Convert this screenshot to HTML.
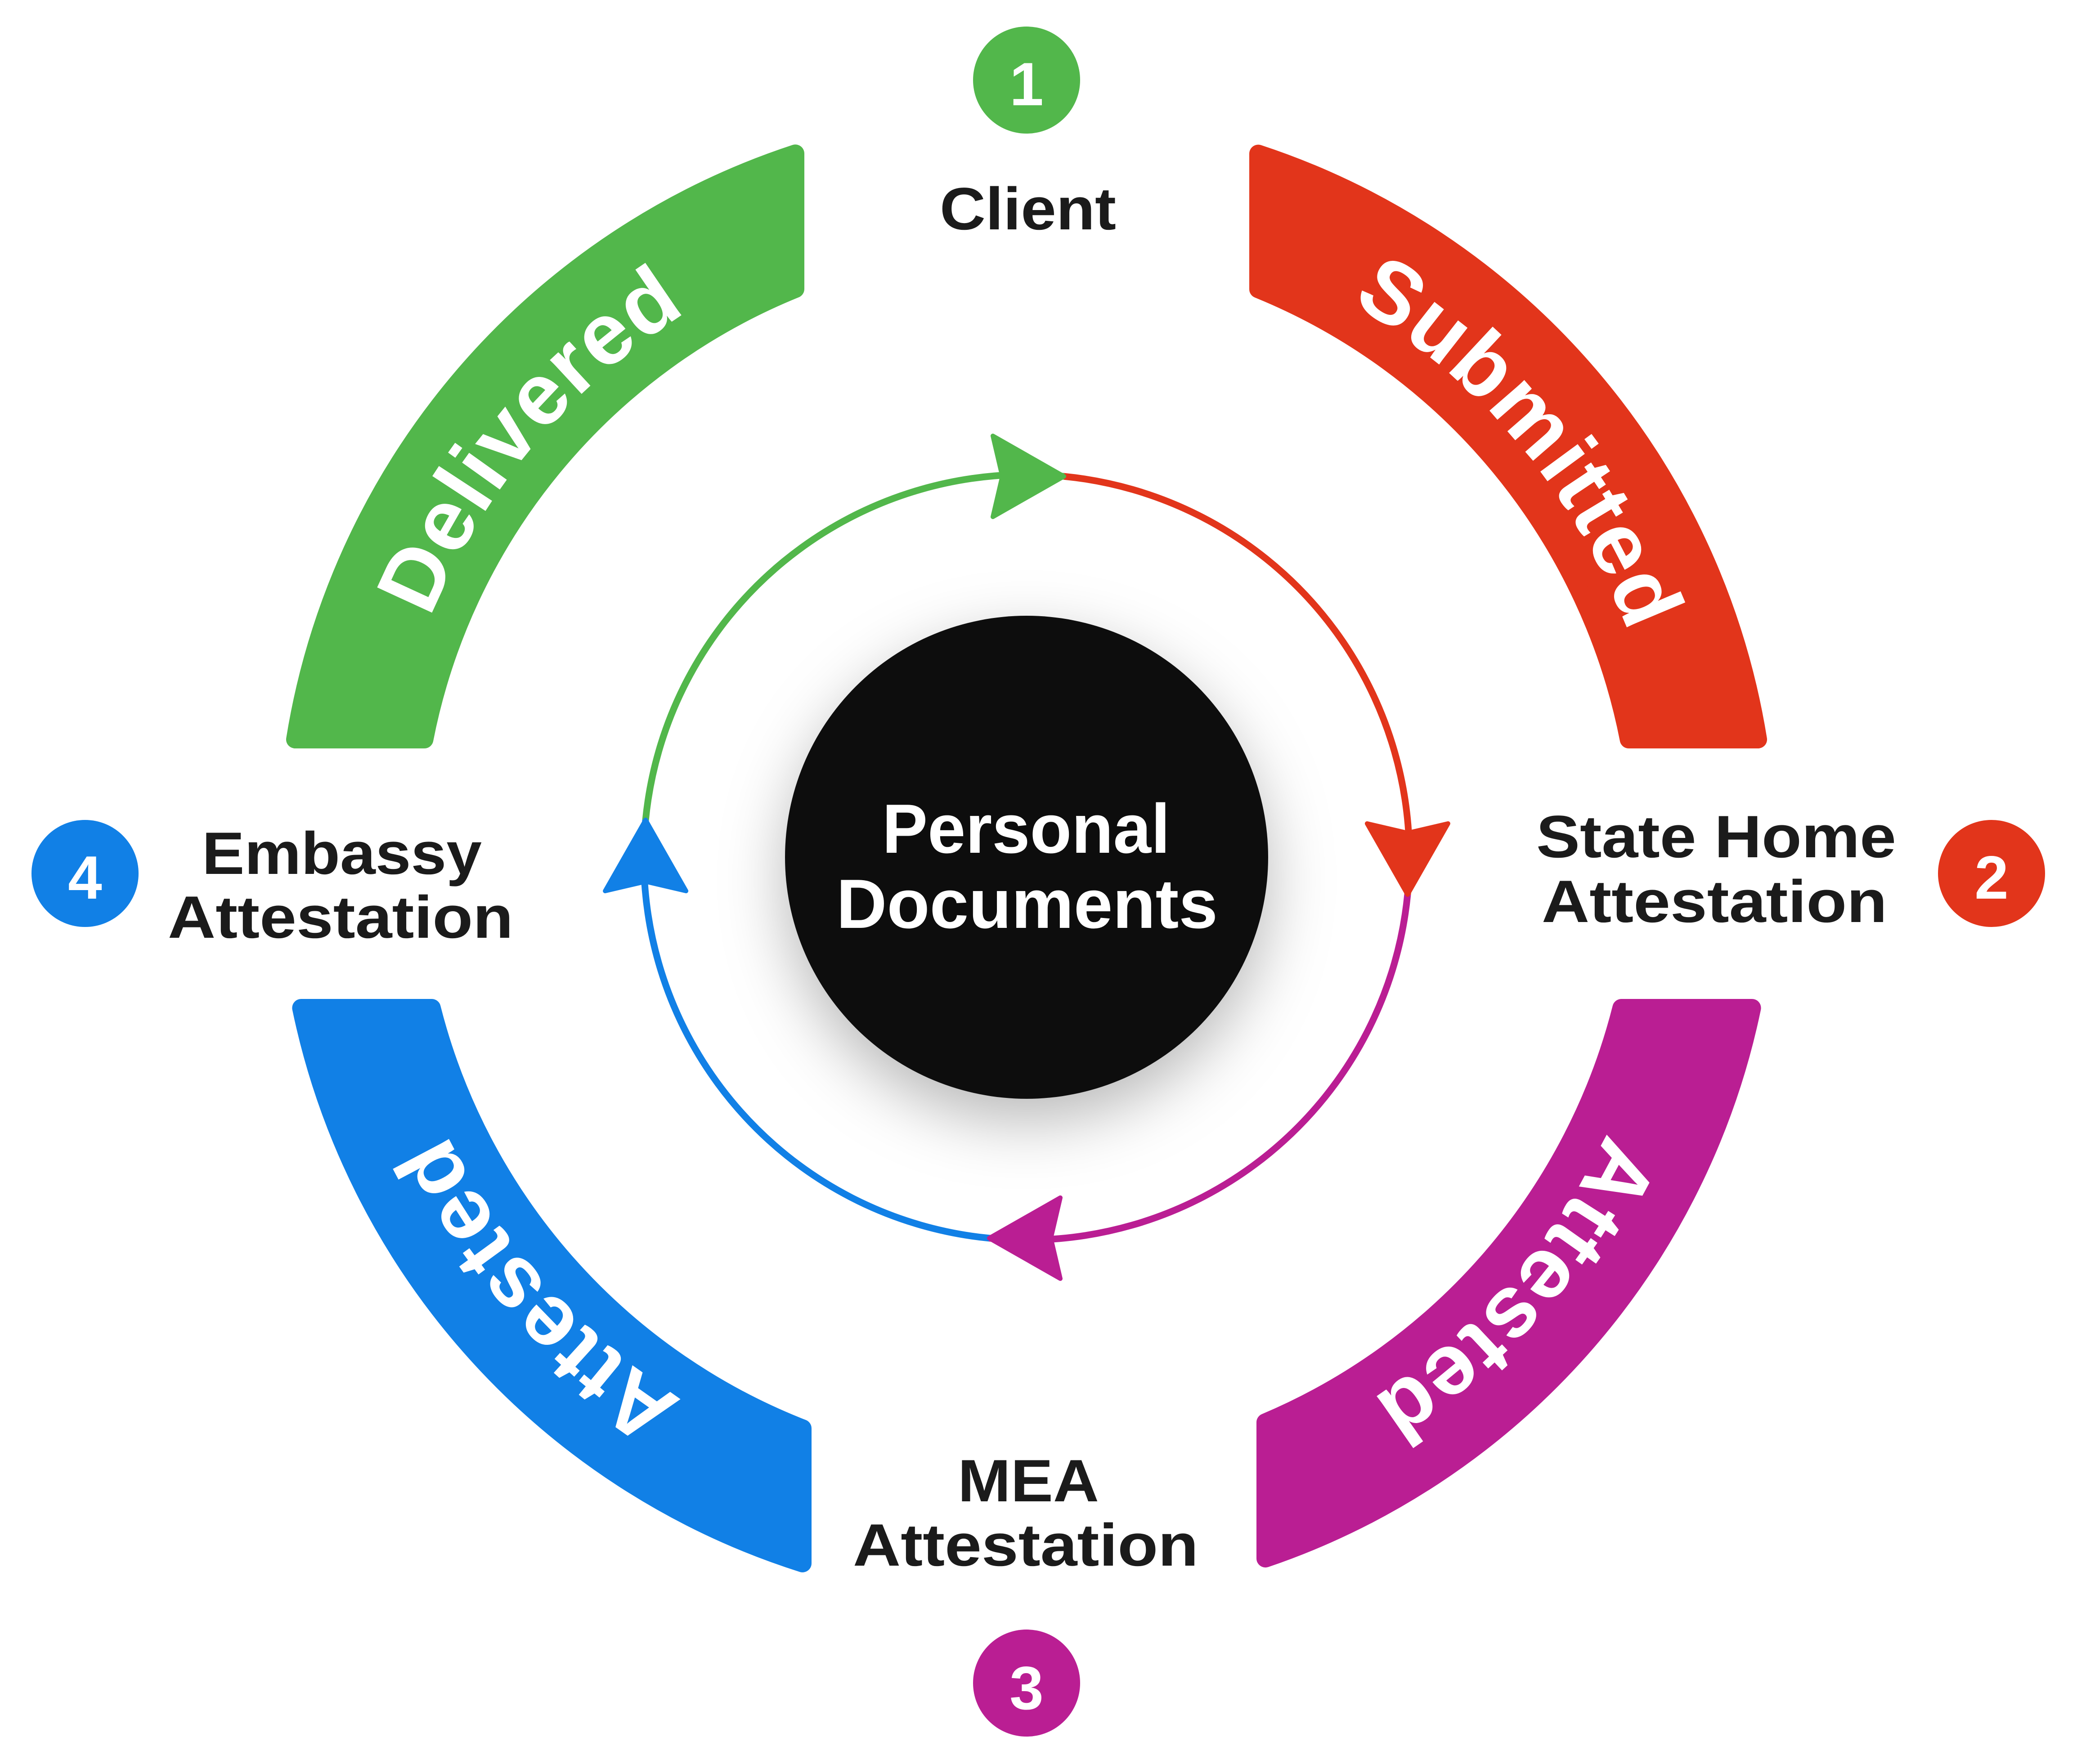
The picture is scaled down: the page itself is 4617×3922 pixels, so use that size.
<!DOCTYPE html>
<html>
<head>
<meta charset="utf-8">
<style>
  html, body { margin: 0; padding: 0; background: #ffffff; }
  svg { display: block; }
  .lbl { font-family: "Liberation Sans", Arial, sans-serif; font-weight: bold; fill: #1b1b1b; }
  .band { font-family: "Liberation Sans", Arial, sans-serif; font-weight: bold; fill: #ffffff; font-size: 195px; letter-spacing: 3px; }
  .num { font-family: "Liberation Sans", Arial, sans-serif; font-weight: bold; fill: #ffffff; font-size: 136px; }
</style>
</head>
<body>
<svg width="4617" height="3922" viewBox="0 0 4617 3922" xmlns="http://www.w3.org/2000/svg">
  <defs>
    <filter id="sh" x="-60%" y="-60%" width="220%" height="220%">
      <feDropShadow dx="0" dy="50" stdDeviation="70" flood-color="#000000" flood-opacity="0.28"/>
    </filter>
    <path id="tpG" d="M 859.4,2030.5 A 1428 1428 0 0 1 2157.5,483.4"/>
    <path id="tpR" d="M 2406.5,483.4 A 1428 1428 0 0 1 3704.6,2030.5"/>
    <path id="tpM" d="M 3707.3,1818.8 A 1428 1428 0 0 1 2369.2,3331.3"/>
    <path id="tpB" d="M 2194.8,3331.3 A 1428 1428 0 0 1 856.7,1818.8"/>
  </defs>

  <rect width="4617" height="3922" fill="#ffffff"/>

  <!-- Outer bands -->
  <g stroke-width="40" stroke-linejoin="round">
    <path d="M 1768,341.3 A 1647 1647 0 0 0 656,1644 L 943.4,1644 A 1364 1364 0 0 1 1768,642.5 Z" fill="#52B74B" stroke="#52B74B"/>
    <path d="M 2797,341.6 A 1647 1647 0 0 1 3908,1644 L 3620.6,1644 A 1364 1364 0 0 0 2797,643 Z" fill="#E2351B" stroke="#E2351B"/>
    <path d="M 3894.6,2241 A 1647 1647 0 0 1 2813,3465.1 L 2813,3162.4 A 1364 1364 0 0 0 3604.2,2241 Z" fill="#BA1E93" stroke="#BA1E93"/>
    <path d="M 669.4,2241 A 1647 1647 0 0 0 1784,3475.9 L 1784,3175.8 A 1364 1364 0 0 1 959.8,2241 Z" fill="#1180E6" stroke="#1180E6"/>
  </g>

  <!-- Band texts -->
  <text class="band"><textPath href="#tpG" startOffset="50%" text-anchor="middle">Delivered</textPath></text>
  <text class="band"><textPath href="#tpR" startOffset="50%" text-anchor="middle">Submitted</textPath></text>
  <text class="band"><textPath href="#tpM" startOffset="50%" text-anchor="middle">Attested</textPath></text>
  <text class="band"><textPath href="#tpB" startOffset="50%" text-anchor="middle">Attested</textPath></text>

  <!-- Center circle -->
  <circle cx="2282" cy="1906" r="537" fill="#111111" filter="url(#sh)"/>
  <text class="lbl" x="2281" y="1896" font-size="155" text-anchor="middle" textLength="640" lengthAdjust="spacingAndGlyphs" style="fill:#ffffff">Personal</text>
  <text class="lbl" x="2283" y="2063" font-size="155" text-anchor="middle" textLength="848" lengthAdjust="spacingAndGlyphs" style="fill:#ffffff">Documents</text>

  <!-- Inner ring segments -->
  <g fill="none" stroke-width="15">
    <path d="M 1435.1,1823 A 851 851 0 0 1 2365,1059.1" stroke="#52B74B"/>
    <path d="M 2365,1059.1 A 851 851 0 0 1 3128.9,1989" stroke="#E2351B"/>
    <path d="M 3128.9,1989 A 851 851 0 0 1 2199,2752.9" stroke="#BA1E93"/>
    <path d="M 2199,2752.9 A 851 851 0 0 1 1435.1,1823" stroke="#1180E6"/>
  </g>

  <!-- Arrowheads -->
  <g stroke-width="10" stroke-linejoin="round">
    <polygon transform="translate(2365,1059.1)" points="0,0 -158,-90 -137,0 -158,90" fill="#52B74B" stroke="#52B74B"/>
    <polygon transform="translate(3128.9,1989)" points="0,0 90,-158 0,-137 -90,-158" fill="#E2351B" stroke="#E2351B"/>
    <polygon transform="translate(2199,2752.9)" points="0,0 158,90 137,0 158,-90" fill="#BA1E93" stroke="#BA1E93"/>
    <polygon transform="translate(1435.1,1823)" points="0,0 -90,158 0,137 90,158" fill="#1180E6" stroke="#1180E6"/>
  </g>

  <!-- Number badges -->
  <circle cx="2282" cy="178" r="119" fill="#52B74B"/>
  <text class="num" x="2282" y="234" text-anchor="middle">1</text>
  <circle cx="4427" cy="1942" r="119" fill="#E2351B"/>
  <text class="num" x="4427" y="1998" text-anchor="middle">2</text>
  <circle cx="2282" cy="3742" r="119" fill="#BA1E93"/>
  <text class="num" x="2282" y="3800" text-anchor="middle">3</text>
  <circle cx="189" cy="1942" r="119" fill="#1180E6"/>
  <text class="num" x="189" y="1998" text-anchor="middle">4</text>

  <!-- Labels -->
  <text class="lbl" x="2285" y="510" font-size="133" text-anchor="middle" textLength="392" lengthAdjust="spacingAndGlyphs">Client</text>

  <text class="lbl" x="760" y="1943" font-size="133" text-anchor="middle" textLength="622" lengthAdjust="spacingAndGlyphs">Embassy</text>
  <text class="lbl" x="757" y="2085" font-size="133" text-anchor="middle" textLength="768" lengthAdjust="spacingAndGlyphs">Attestation</text>

  <text class="lbl" x="3815" y="1906" font-size="133" text-anchor="middle" textLength="800" lengthAdjust="spacingAndGlyphs">State Home</text>
  <text class="lbl" x="3811" y="2050" font-size="133" text-anchor="middle" textLength="768" lengthAdjust="spacingAndGlyphs">Attestation</text>

  <text class="lbl" x="2286" y="3338" font-size="133" text-anchor="middle" textLength="314" lengthAdjust="spacingAndGlyphs">MEA</text>
  <text class="lbl" x="2280" y="3481" font-size="133" text-anchor="middle" textLength="768" lengthAdjust="spacingAndGlyphs">Attestation</text>
</svg>
</body>
</html>
